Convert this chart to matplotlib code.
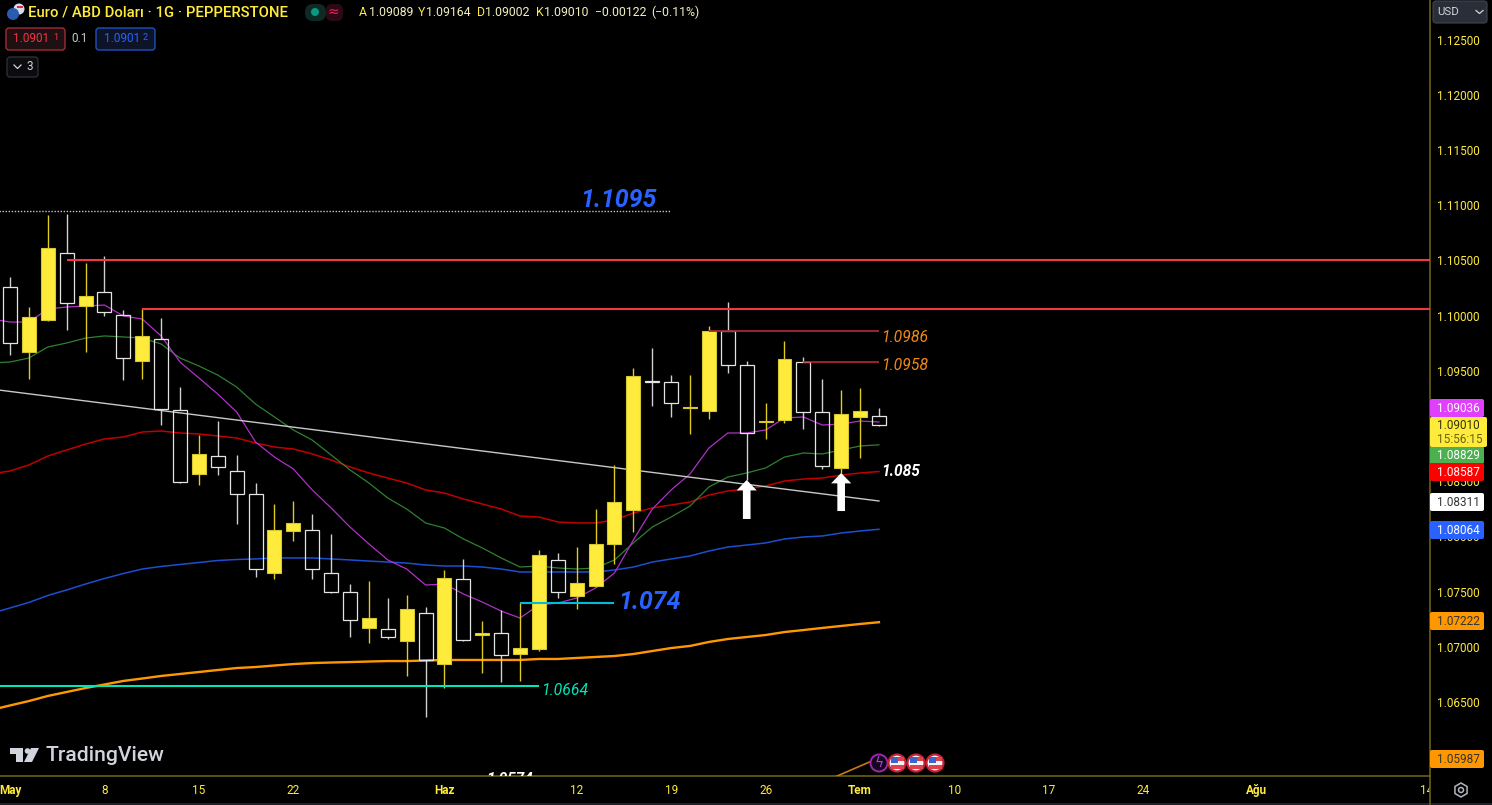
import numpy as np
import matplotlib
matplotlib.use('Agg')
import matplotlib.pyplot as plt
from matplotlib.patches import Rectangle, Circle, FancyBboxPatch, Polygon, RegularPolygon

plt.rcParams['font.family'] = ['Roboto', 'DejaVu Sans']

opens = [1.10258, 1.09670, 1.09959, 1.10566, 1.10086, 1.10213, 1.10005, 1.09588, 1.09787, 1.09144,
         1.08565, 1.08727, 1.08592, 1.08383, 1.07668, 1.08048, 1.08057, 1.07668, 1.07496, 1.07170,
         1.07160, 1.07052, 1.07305, 1.06843, 1.07613, 1.07106, 1.07124, 1.06934, 1.06979, 1.07786,
         1.07459, 1.07550, 1.07931, 1.08238, 1.09407, 1.09398, 1.09162, 1.09135, 1.09860, 1.09552,
         1.09035, 1.09054, 1.09579, 1.09126, 1.08619, 1.09081, 1.09089]
closes = [1.09751, 1.09987, 1.10612, 1.10113, 1.10177, 1.10032, 1.09615, 1.09815, 1.09153, 1.08492,
          1.08746, 1.08628, 1.08383, 1.07704, 1.08057, 1.08121, 1.07704, 1.07496, 1.07242, 1.07260,
          1.07088, 1.07342, 1.06880, 1.07622, 1.07061, 1.07124, 1.06925, 1.06988, 1.07831, 1.07496,
          1.07577, 1.07931, 1.08311, 1.09452, 1.09398, 1.09208, 1.09171, 1.09860, 1.09552, 1.08936,
          1.09044, 1.09606, 1.09126, 1.08637, 1.09108, 1.09135, 1.09010]
highs = [1.10349, 1.10077, 1.10911, 1.10920, 1.10476, 1.10539, 1.10050, 1.10059, 1.09978, 1.09352,
         1.08918, 1.09044, 1.08737, 1.08483, 1.08293, 1.08320, 1.08202, 1.08021, 1.07568, 1.07595,
         1.07441, 1.07469, 1.07360, 1.07695, 1.07795, 1.07233, 1.07333, 1.07396, 1.07876, 1.07849,
         1.07903, 1.08247, 1.08646, 1.09525, 1.09706, 1.09461, 1.09461, 1.09905, 1.10123, 1.09588,
         1.09208, 1.09769, 1.09624, 1.09425, 1.09325, 1.09343, 1.09164]
lows = [1.09642, 1.09425, 1.09950, 1.09869, 1.09670, 1.09996, 1.09416, 1.09425, 1.09008, 1.08483,
        1.08465, 1.08555, 1.08112, 1.07632, 1.07613, 1.07958, 1.07613, 1.07490, 1.07088, 1.07034,
        1.07070, 1.06735, 1.06363, 1.06626, 1.07055, 1.06762, 1.06681, 1.06690, 1.06961, 1.07441,
        1.07342, 1.07545, 1.07749, 1.08039, 1.09180, 1.09081, 1.08927, 1.09063, 1.09479, 1.08510,
        1.08882, 1.09026, 1.08972, 1.08610, 1.08574, 1.08709, 1.09002]

# moving averages, first value sits one bar left of the first candle
ma_purple = [1.09968, 1.09941, 1.09941, 1.10059, 1.10077, 1.10086, 1.10095, 1.09996, 1.09968, 1.09815,
             1.09579, 1.09434, 1.09289, 1.09126, 1.08854, 1.08718, 1.08610, 1.08420, 1.08257, 1.08084,
             1.07931, 1.07786, 1.07704, 1.07559, 1.07568, 1.07478, 1.07405, 1.07323, 1.07260, 1.07378,
             1.07396, 1.07441, 1.07532, 1.07668, 1.07967, 1.08247, 1.08420, 1.08565, 1.08800, 1.08936,
             1.08936, 1.08963, 1.09072, 1.09081, 1.09008, 1.09017, 1.09044, 1.09036]
ma_green = [1.09570, 1.09579, 1.09615, 1.09715, 1.09751, 1.09796, 1.09815, 1.09806, 1.09796, 1.09742,
            1.09615, 1.09543, 1.09461, 1.09352, 1.09198, 1.09081, 1.08963, 1.08872, 1.08737, 1.08601,
            1.08483, 1.08347, 1.08247, 1.08121, 1.08075, 1.07976, 1.07895, 1.07804, 1.07722, 1.07731,
            1.07713, 1.07704, 1.07713, 1.07786, 1.07940, 1.08084, 1.08175, 1.08275, 1.08447, 1.08537,
            1.08574, 1.08619, 1.08718, 1.08755, 1.08746, 1.08782, 1.08818, 1.08829]
ma_red = [1.08565, 1.08592, 1.08646, 1.08727, 1.08782, 1.08836, 1.08882, 1.08900, 1.08945, 1.08954,
          1.08936, 1.08927, 1.08909, 1.08891, 1.08845, 1.08809, 1.08791, 1.08746, 1.08691, 1.08628,
          1.08574, 1.08528, 1.08483, 1.08420, 1.08392, 1.08338, 1.08293, 1.08247, 1.08184, 1.08175,
          1.08130, 1.08121, 1.08121, 1.08148, 1.08211, 1.08257, 1.08284, 1.08311, 1.08374, 1.08411,
          1.08429, 1.08456, 1.08501, 1.08519, 1.08528, 1.08555, 1.08574, 1.08587]
ma_blue = [1.07301, 1.07351, 1.07401, 1.07464, 1.07514, 1.07568, 1.07618, 1.07663, 1.07704, 1.07727,
           1.07745, 1.07763, 1.07781, 1.07790, 1.07795, 1.07804, 1.07804, 1.07804, 1.07795, 1.07786,
           1.07776, 1.07767, 1.07758, 1.07740, 1.07731, 1.07731, 1.07722, 1.07704, 1.07677, 1.07677,
           1.07677, 1.07677, 1.07677, 1.07695, 1.07722, 1.07767, 1.07795, 1.07822, 1.07867, 1.07903,
           1.07921, 1.07940, 1.07976, 1.07994, 1.08003, 1.08030, 1.08048, 1.08064]
ma_orange = [1.06427, 1.06468, 1.06508, 1.06554, 1.06590, 1.06626, 1.06658, 1.06690, 1.06712, 1.06735,
             1.06753, 1.06771, 1.06789, 1.06807, 1.06816, 1.06830, 1.06843, 1.06852, 1.06857, 1.06861,
             1.06866, 1.06870, 1.06870, 1.06875, 1.06880, 1.06880, 1.06880, 1.06880, 1.06880, 1.06889,
             1.06889, 1.06898, 1.06907, 1.06916, 1.06934, 1.06961, 1.06988, 1.07007, 1.07043, 1.07070,
             1.07088, 1.07106, 1.07133, 1.07151, 1.07170, 1.07188, 1.07206, 1.07222]

trend_x = [-1, 46]
trend_y = [1.09334, 1.08320]

x_ticks = [0, 5, 10, 15, 23, 30, 35, 40, 45, 50, 55, 60, 66, 75]
x_labels = ['May', '8', '15', '22', 'Haz', '12', '19', '26', 'Tem', '10', '17', '24', 'Ağu', '14']
month_labels = ['May', 'Haz', 'Tem', 'Ağu']
y_ticks = [1.065, 1.07, 1.075, 1.08, 1.085, 1.09, 1.095, 1.10, 1.105, 1.11, 1.115, 1.12, 1.125]

YELLOW = '#FFEB3B'

fig = plt.figure(figsize=(14.92, 8.05), dpi=100, facecolor='black')
ax = fig.add_axes([0, 29 / 805, 1430 / 1492, 776 / 805], facecolor='black')
bar_px = 18.89
ax.set_xlim(-10 / bar_px, 1420 / bar_px)
ax.set_ylim(1.12858 - 776 * 0.00009058, 1.12858)

ma_x = np.arange(-1, 47)
ax.plot(ma_x, ma_blue, color='#1c4fd0', lw=1.1, zorder=2)
ax.plot(ma_x, ma_red, color='#c00000', lw=1.1, zorder=2)
ax.plot(ma_x, ma_green, color='#2f8030', lw=0.9, zorder=2)
ax.plot(ma_x, ma_purple, color='#b030c8', lw=0.9, zorder=2)
ax.plot(ma_x, ma_orange, color='#ff9800', lw=1.7, zorder=2)
ax.plot(trend_x, trend_y, color='#c8c8c8', lw=1.0, zorder=2)

idx = np.arange(len(opens))
opens_a, closes_a = np.array(opens), np.array(closes)
highs_a, lows_a = np.array(highs), np.array(lows)
up = closes_a >= opens_a
bottoms = np.minimum(opens_a, closes_a)
tops = np.maximum(opens_a, closes_a)
heights = tops - bottoms
# wicks stop at the body, the white candles are hollow
ax.vlines(idx[up], tops[up], highs_a[up], color='#e0cc20', lw=1.0, zorder=3)
ax.vlines(idx[up], lows_a[up], bottoms[up], color='#e0cc20', lw=1.0, zorder=3)
ax.vlines(idx[~up], tops[~up], highs_a[~up], color='#d0d0d0', lw=1.0, zorder=3)
ax.vlines(idx[~up], lows_a[~up], bottoms[~up], color='#d0d0d0', lw=1.0, zorder=3)
ax.bar(idx[up], heights[up], bottom=bottoms[up], width=0.74, color=YELLOW,
       edgecolor='#d8c830', lw=0.8, zorder=3.2)
ax.bar(idx[~up], heights[~up], bottom=bottoms[~up], width=0.74, facecolor='none',
       edgecolor='#e4e4e4', lw=0.9, zorder=3.2)

right = ax.get_xlim()[1]
ax.hlines(1.10500, 3, right, color='#f23645', lw=1.5, zorder=4)
ax.hlines(1.10059, 7, right, color='#f23645', lw=1.5, zorder=4)
ax.hlines(1.09860, 37, 46, color='#a52a35', lw=1.3, zorder=4)
ax.hlines(1.09579, 42, 46, color='#d02838', lw=1.1, zorder=4)
ax.hlines(1.06640, -1, 28, color='#00e6b8', lw=1.5, zorder=4)
ax.hlines(1.07396, 27, 32, color='#00bcd4', lw=1.5, zorder=4)
ax.plot([-1, 35], [1.10945, 1.10945], color='#c8c8c8', lw=1, ls=(0, (1, 1.2)), zorder=4)
ax.plot([43.4, 45.5], [1.05800, 1.05956], color='#c87a14', lw=1.2, zorder=4)

for ax_x, top, bottom in [(39, 1.08510, 1.08157), (44, 1.08574, 1.08229)]:
    ax.annotate('', xy=(ax_x, top), xytext=(ax_x, bottom), zorder=5,
                arrowprops=dict(facecolor='white', edgecolor='white', width=5.5,
                                headwidth=14.5, headlength=7.5, shrink=0, lw=0))

ax.text(30.2, 1.11049, '1.1095', color='#2962ff', fontsize=18, style='italic', weight='bold', va='center', zorder=6)
ax.text(32.2, 1.07408, '1.074', color='#2962ff', fontsize=18, style='italic', weight='bold', va='center', zorder=6)
ax.text(46.1, 1.09797, '1.0986', color='#f08a14', fontsize=11.3, style='italic', va='center', zorder=6)
ax.text(46.1, 1.09543, '1.0958', color='#f08a14', fontsize=11.3, style='italic', va='center', zorder=6)
ax.text(46.1, 1.08587, '1.085', color='white', fontsize=11.2, style='italic', weight='bold', va='center', zorder=6)
ax.text(28.1, 1.06601, '1.0664', color='#00e6b8', fontsize=11.3, style='italic', va='center', zorder=6)
ax.text(25.2, 1.05800, '1.0574', color='white', fontsize=11, style='italic', weight='bold',
        va='center', zorder=6, clip_on=True)

ax.set_xticks(x_ticks)
ax.set_xticklabels(x_labels)
for lab in ax.get_xticklabels():
    if lab.get_text() in month_labels:
        lab.set_fontweight('bold')
ax.set_yticks(y_ticks)
ax.set_yticklabels(['%.5f' % v for v in y_ticks])
ax.yaxis.tick_right()
ax.tick_params(axis='x', length=0, pad=5.5, labelsize=8.5, colors=YELLOW)
ax.tick_params(axis='y', length=0, pad=5, labelsize=8.5, colors=YELLOW)
for name, sp in ax.spines.items():
    sp.set_visible(name in ('bottom', 'right'))
    sp.set_color('#6b5f14')
    sp.set_linewidth(1.2)

# interface furniture in pixel coordinates
ui = fig.add_axes([0, 0, 1, 1], facecolor='none')
ui.set_xlim(0, 1492)
ui.set_ylim(805, 0)
ui.axis('off')

# the scale column hides the end of the last date label
ui.add_patch(Rectangle((1430, 777), 62, 28, color='black', lw=0))
ui.add_patch(Rectangle((0, 803), 1492, 2, color='#1e222d', lw=0))
ui.plot([1430, 1430], [776, 805], color='#6b5f14', lw=1.2)


def price_tag(y, text, face, tc='white', w=54, h=18):
    ui.add_patch(FancyBboxPatch((1430, y - h / 2), w, h, boxstyle='round,pad=0,rounding_size=2',
                                facecolor=face, lw=0, zorder=5))
    ui.text(1437, y, text, color=tc, fontsize=8.5, va='center', ha='left', zorder=6)


price_tag(408, '1.09036', '#e040fb')
price_tag(455, '1.08829', '#4caf50')
price_tag(472, '1.08587', '#ff0000')
price_tag(502, '1.08311', '#ffffff', '#333333')
price_tag(530, '1.08064', '#2962ff')
price_tag(621, '1.07222', '#ff9800', '#333333')
price_tag(759, '1.05987', '#ff9800', '#333333')
ui.add_patch(FancyBboxPatch((1430, 417), 57, 30, boxstyle='round,pad=0,rounding_size=2', facecolor=YELLOW, lw=0, zorder=5))
ui.text(1437, 425, '1.09010', color='#333300', fontsize=8.5, va='center', zorder=6)
ui.text(1437, 439, '15:56:15', color='#6b6410', fontsize=8.5, va='center', zorder=6)

# USD button and settings gear
ui.add_patch(FancyBboxPatch((1433, 1), 54, 22, boxstyle='round,pad=0,rounding_size=3', facecolor='#2a2e39', edgecolor='#434651', lw=0.8))
ui.text(1437, 12, 'USD', color='#d1d4dc', fontsize=8.2, va='center')
ui.plot([1476, 1479.5, 1483], [10.5, 13.5, 10.5], color='#d1d4dc', lw=0.9)
ui.add_patch(RegularPolygon((1461, 790), 6, radius=7, facecolor='none', edgecolor='#b2b5be', lw=1.1))
ui.add_patch(Circle((1461, 790), 2.5, facecolor='none', edgecolor='#b2b5be', lw=1.1))

# header
ui.add_patch(Circle((19, 9), 5.5, facecolor='#d8dce8', edgecolor='none'))
ui.add_patch(Rectangle((17, 6.5), 6, 2, color='#d03040', lw=0))
ui.add_patch(Circle((13, 14), 6, facecolor='#2a5bb0', edgecolor='none'))
ui.text(28, 12.5, 'Euro / ABD Doları · 1G · PEPPERSTONE', color=YELLOW, fontsize=10.7, weight='medium', va='center')
ui.add_patch(FancyBboxPatch((305, 4), 21, 17, boxstyle='round,pad=0,rounding_size=8', facecolor='#0d2a25', lw=0))
ui.add_patch(FancyBboxPatch((326, 4), 17, 17, boxstyle='round,pad=0,rounding_size=6', facecolor='#2c0a14', lw=0))
ui.add_patch(Circle((315, 12), 4, facecolor='#089981', lw=0))
ui.text(333, 12, '≈', color='#e91e63', fontsize=10, ha='center', va='center', family='DejaVu Sans')

header_parts = [
    (359, 'A', YELLOW), (369, '1.09089', '#f3f0c0'), (418, 'Y', YELLOW), (426, '1.09164', '#f3f0c0'),
    (477, 'D', YELLOW), (485, '1.09002', '#f3f0c0'), (536, 'K', YELLOW), (544, '1.09010', '#f3f0c0'),
    (595, '−0.00122', '#f3f0c0'), (651, '(−0.11%)', '#f3f0c0'),
]
for px, txt, col in header_parts:
    ui.text(px, 12.5, txt, color=col, fontsize=8.8, va='center')

ui.add_patch(FancyBboxPatch((6, 28), 59, 22, boxstyle='round,pad=0,rounding_size=3', facecolor='#1f1014', edgecolor='#a52a35', lw=1))
ui.text(13, 39, '1.0901', color='#f23645', fontsize=8.5, va='center')
ui.text(53, 37, '1', color='#f23645', fontsize=6.5, va='center')
ui.text(80, 39, '0.1', color='#c8c8c8', fontsize=8.5, ha='center', va='center')
ui.add_patch(FancyBboxPatch((96, 28), 59, 22, boxstyle='round,pad=0,rounding_size=3', facecolor='#0e1428', edgecolor='#1f4fc0', lw=1))
ui.text(104, 39, '1.0901', color='#2962ff', fontsize=8.5, va='center')
ui.text(143, 37, '2', color='#2962ff', fontsize=6.5, va='center')
ui.add_patch(FancyBboxPatch((7, 57), 31, 20, boxstyle='round,pad=0,rounding_size=3', facecolor='#0c0c0e', edgecolor='#2a2e39', lw=1))
ui.plot([14, 17.5, 21], [65, 68.5, 65], color='#d1d4dc', lw=0.9)
ui.text(29.5, 67, '3', color='#d1d4dc', fontsize=8.5, ha='center', va='center')

# watermark
ui.add_patch(Polygon([(10, 748), (23, 748), (23, 762), (16, 762), (16, 754), (10, 754)], facecolor='#d1d4dc', lw=0))
ui.add_patch(Circle((27.5, 751), 2.8, facecolor='#d1d4dc', lw=0))
ui.add_patch(Polygon([(31, 748), (39, 748), (32, 762), (24, 762)], facecolor='#d1d4dc', lw=0))
ui.text(45, 755, 'TradingView', color='#d1d4dc', fontsize=15.2, weight='medium', va='center')

# event icons
ui.add_patch(Circle((879, 763), 8.5, facecolor='#14061a', edgecolor='#9c27b0', lw=1.4, zorder=7))
ui.text(879, 763, 'ϟ', color='#b040d0', fontsize=10, ha='center', va='center', zorder=8, family='DejaVu Sans')
for cx in (897, 916, 935):
    ui.add_patch(Circle((cx, 763), 8.5, facecolor='#f4f4f8', edgecolor='#c62033', lw=1.6, zorder=7))
    ui.add_patch(Rectangle((cx - 6.5, 757), 13, 3.5, facecolor='#e04050', lw=0, zorder=8))
    ui.add_patch(Rectangle((cx - 6.5, 765), 13, 3.5, facecolor='#e04050', lw=0, zorder=8))
    ui.add_patch(Rectangle((cx - 6, 756.5), 7, 6, facecolor='#3a66c8', lw=0, zorder=9))

fig.savefig('out.png', dpi=100, facecolor='black')
